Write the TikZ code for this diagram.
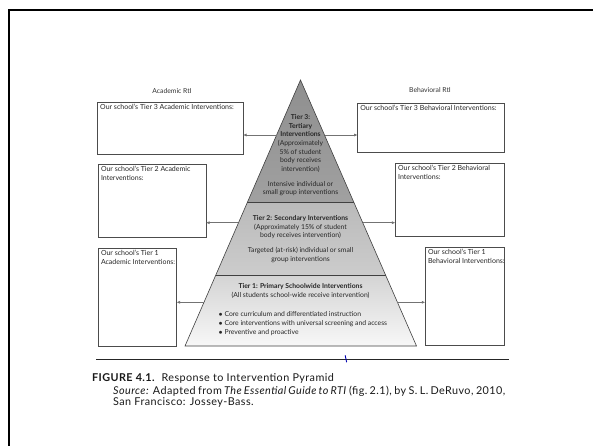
\documentclass[tikz,border=0pt]{standalone}
\usepackage{fontspec}
\setmainfont{Lato}
\newfontfamily\capfont[LetterSpace=4]{Lato}
\usetikzlibrary{arrows.meta}
\begin{document}
\begin{tikzpicture}[x=1pt,y=-1pt,
  box/.style={draw=black!70, line width=0.6pt, fill=white, inner sep=0pt, outer sep=0pt},
  boxtext/.style={anchor=north west, inner sep=0pt, align=left, font=\fontsize{7}{8.7}\selectfont, text=black!85},
  ptext/.style={align=center, inner sep=0pt, font=\fontsize{6.8}{8.6}\selectfont, text=black!85},
  arr/.style={draw=black!55, line width=0.8pt, -{Latex[length=3.5pt,width=3pt,fill=black!80]}},
  side/.style={inner sep=0pt, font=\fontsize{6.8}{8}\selectfont, text=black!80},
  captext/.style={inner sep=0pt, font=\capfont\fontsize{10.8}{11}\selectfont, text=black!90}
]
\useasboundingbox (0,0) rectangle (593,446);
\fill[white] (0,0) rectangle (593,446);
\draw[line width=2pt] (8.5,446) -- (8.5,10) -- (593,10);

% pyramid
\coordinate (apex) at (300.5,80);
\coordinate (bl) at (185,346);
\coordinate (br) at (416.5,346);
\coordinate (d2l) at (247.2,202.7);
\coordinate (d2r) at (354.0,202.7);
\coordinate (d1l) at (215.7,275.3);
\coordinate (d1r) at (385.7,275.3);
\shade[top color=black!44, bottom color=black!37] (apex) -- (d2r) -- (d2l) -- cycle;
\shade[top color=black!27, bottom color=black!20] (d2l) -- (d2r) -- (d1r) -- (d1l) -- cycle;
\shade[top color=black!17, bottom color=black!3] (d1l) -- (d1r) -- (br) -- (bl) -- cycle;
\draw[line width=0.6pt, draw=black!75] (apex) -- (br) -- (bl) -- cycle;
\draw[line width=0.6pt, draw=black!75] (d2l) -- (d2r);
\draw[line width=0.6pt, draw=black!75] (d1l) -- (d1r);

% pyramid texts
\node[ptext] (t3a) at (300.5,143.5) {\textbf{Tier 3:}\\ \textbf{Tertiary}\\ \textbf{Interventions}\\ (Approximately\\ 5\% of student\\ body receives\\ intervention)};
\node[ptext] (t3b) at (300.5,188.8) {Intensive individual or\\ small group interventions};
\node[ptext] (t2a) at (300.5,227.2) {\textbf{Tier 2: Secondary Interventions}\\ (Approximately 15\% of student\\ body receives intervention)};
\node[ptext] (t2b) at (300.5,255) {Targeted (at-risk) individual or small\\ group interventions};
\node[ptext] (t1a) at (300.5,290.8) {\textbf{Tier 1: Primary Schoolwide Interventions}\\ (All students school-wide receive intervention)};
\node[ptext, anchor=west, align=left] (t1b) at (218.5,323.6) {$\bullet$ Core curriculum and differentiated instruction\\ $\bullet$ Core interventions with universal screening and access\\ $\bullet$ Preventive and proactive};

% side labels
\node[side] (acad) at (172,91) {Academic RtI};
\node[side] (behav) at (430,90) {Behavioral RtI};

% boxes
\node[box, minimum width=145.5pt, minimum height=51.7pt] (a3) at (170.25,128.15) {};
\node[box, minimum width=146.3pt, minimum height=49.3pt] (b3) at (430.75,127.65) {};
\node[box, minimum width=107.7pt, minimum height=73pt] (a2) at (152.15,200.8) {};
\node[box, minimum width=108.5pt, minimum height=72.7pt] (b2) at (449.65,199.65) {};
\node[box, minimum width=78.2pt, minimum height=98.4pt] (a1) at (137.4,297.5) {};
\node[box, minimum width=78.6pt, minimum height=97.7pt] (b1) at (464.6,296.15) {};

\node[boxtext] (a3t) at ([xshift=2.5pt,yshift=-2pt]a3.north west) {Our school's Tier 3 Academic Interventions:};
\node[boxtext] (b3t) at ([xshift=2.5pt,yshift=-2pt]b3.north west) {Our school's Tier 3 Behavioral Interventions:};
\node[boxtext] (a2t) at ([xshift=2.5pt,yshift=-2pt]a2.north west) {Our school's Tier 2 Academic\\ Interventions:};
\node[boxtext] (b2t) at ([xshift=2.5pt,yshift=-2pt]b2.north west) {Our school's Tier 2 Behavioral\\ Interventions:};
\node[boxtext] (a1t) at ([xshift=2.5pt,yshift=-2pt]a1.north west) {Our school's Tier 1\\ Academic Interventions:};
\node[boxtext] (b1t) at ([xshift=2.5pt,yshift=-2pt]b1.north west) {Our school's Tier 1\\ Behavioral Interventions:};

% arrows
\coordinate (p3l) at (276.6,135);
\coordinate (p3r) at (324.5,135);
\coordinate (p2l) at (238.3,222.7);
\coordinate (p2r) at (362.7,222.7);
\coordinate (p1l) at (203.6,302.3);
\coordinate (p1r) at (397.4,302.3);
\draw[arr] (p3l) -- (a3.east |- p3l);
\draw[arr] (p3r) -- (b3.west |- p3r);
\draw[arr] (p2l) -- (a2.east |- p2l);
\draw[arr] (p2r) -- (b2.west |- p2r);
\draw[arr] (p1l) -- (a1.east |- p1l);
\draw[arr] (p1r) -- (b1.west |- p1r);

% rule and caption
\coordinate (rl) at (96.4,359.5);
\coordinate (rr) at (509,359.5);
\draw[line width=1.3pt, draw=black!85] (rl) -- (rr);
\draw[line width=0.9pt, draw=blue!70!black, line cap=round] (345.2,355.5) -- (346.6,362);
\node[captext, anchor=west] (cap) at (92,378.5) {\textbf{FIGURE 4.1.}\ \ Response to Intervention Pyramid};
\node[captext, anchor=north west, text width=392pt, align=justify] (src) at (113,386) {\textit{Source:} Adapted from \textit{The Essential Guide to RTI} (fig.~2.1), by S.~L. DeRuvo, 2010,\linebreak San Francisco: Jossey-Bass.};
\end{tikzpicture}
\end{document}
